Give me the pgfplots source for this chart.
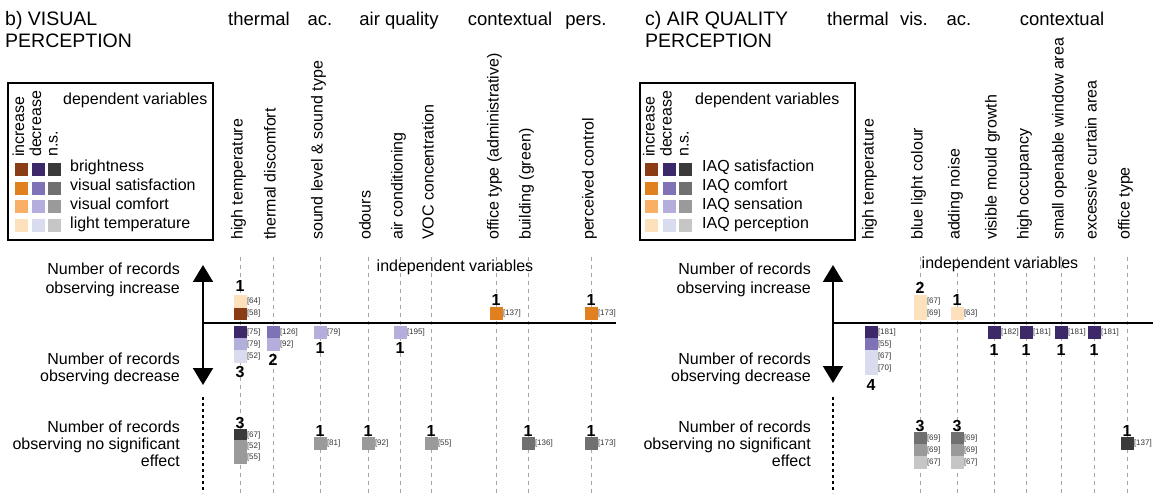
\documentclass[border=0pt]{standalone}
\usepackage{pgfplots}
\pgfplotsset{compat=1.18}
\usepackage{pgfplotstable}
\usepackage{fontspec}
\setmainfont{Liberation Sans}
\usetikzlibrary{arrows.meta}

\definecolor{inA}{HTML}{8A3D14}
\definecolor{inB}{HTML}{E0801E}
\definecolor{inC}{HTML}{F9B066}
\definecolor{inD}{HTML}{FDE0BC}
\definecolor{deA}{HTML}{3D2869}
\definecolor{deB}{HTML}{8072B6}
\definecolor{deC}{HTML}{B3AEDB}
\definecolor{deD}{HTML}{D9DCEF}
\definecolor{nsA}{HTML}{3A3A3A}
\definecolor{nsB}{HTML}{707070}
\definecolor{nsC}{HTML}{9A9A9A}
\definecolor{nsD}{HTML}{C6C6C6}

\pgfplotsset{
  sq/.style={only marks, mark=square*, mark size=6pt, color=#1,
    mark options={draw=#1, fill=#1, line width=0pt}},
  lab/.style={nodes near coords, point meta=explicit symbolic,
    every node near coord/.append style={anchor=west, xshift=7pt, inner sep=0pt,
      font=\fontsize{8}{8}\selectfont, text=black!80}},
  cnt/.style={only marks, mark=none, nodes near coords, point meta=explicit symbolic,
    every node near coord/.append style={anchor=base, inner sep=0pt,
      font=\bfseries\fontsize{16}{16}\selectfont, text=black}},
}

% squares: x y label
\pgfplotstableread{
x y lab
240 313 [58]
}\incA
\pgfplotstableread{
x y lab
496 313 [137]
591 313 [173]
}\incB
\pgfplotstableread{
x y lab
240 301 [64]
920 301 [67]
920 313 [69]
957 313 [63]
}\incD
\pgfplotstableread{
x y lab
240 332 [75]
871 332 [181]
994 332 [182]
1026 332 [181]
1061 332 [181]
1094 332 [181]
}\decA
\pgfplotstableread{
x y lab
273 332 [126]
871 344 [55]
}\decB
\pgfplotstableread{
x y lab
240 344 [79]
273 344 [92]
320 332 [79]
400 332 [195]
}\decC
\pgfplotstableread{
x y lab
240 356 [52]
871 356 [67]
871 368 [70]
}\decD
\pgfplotstableread{
x y lab
240 435 [67]
1127 443 [137]
}\nsA
\pgfplotstableread{
x y lab
528 443 [136]
591 443 [173]
920 438 [69]
957 438 [69]
}\nsB
\pgfplotstableread{
x y lab
240 446 [52]
240 457 [55]
320 443 [81]
368 443 [92]
431 443 [55]
920 450 [69]
957 450 [69]
}\nsC
\pgfplotstableread{
x y lab
920 462 [67]
957 462 [67]
}\nsD
% counts
\pgfplotstableread{
x y lab
240 291 1
240 377 3
273 365 2
320 353 1
400 353 1
496 305 1
591 305 1
240 428 3
320 436 1
368 436 1
431 436 1
528 436 1
591 436 1
920 293 2
957 305 1
871 390 4
994 355 1
1026 355 1
1061 355 1
1094 355 1
920 431 3
957 431 3
1127 436 1
}\counts

\begin{document}
\begin{tikzpicture}
\begin{axis}[
  at={(0,0)}, anchor=south west,
  width=1153pt, height=493pt, scale only axis,
  xmin=0, xmax=1153, ymin=0, ymax=493, y dir=reverse,
  hide axis, clip=false,
]
% guide lines
\pgfplotsinvokeforeach{240,273,320,368,400,431,496,528,591,920,957,994,1026,1061,1094,1127}{
  \draw[black!35, line width=0.8pt, dash pattern=on 4pt off 4pt] (axis cs:#1,257) -- (axis cs:#1,493);
}
% legend squares
\addplot[sq=inA] coordinates {(21.5,169) (651.5,169)};
\addplot[sq=inB] coordinates {(21.5,188) (651.5,188)};
\addplot[sq=inC] coordinates {(21.5,206.5) (651.5,206.5)};
\addplot[sq=inD] coordinates {(21.5,225.5) (651.5,225.5)};
\addplot[sq=deA] coordinates {(38.5,169) (669,169)};
\addplot[sq=deB] coordinates {(38.5,188) (669,188)};
\addplot[sq=deC] coordinates {(38.5,206.5) (669,206.5)};
\addplot[sq=deD] coordinates {(38.5,225.5) (669,225.5)};
\addplot[sq=nsA] coordinates {(54.5,169) (685.5,169)};
\addplot[sq=nsB] coordinates {(54.5,188) (685.5,188)};
\addplot[sq=nsC] coordinates {(54.5,206.5) (685.5,206.5)};
\addplot[sq=nsD] coordinates {(54.5,225.5) (685.5,225.5)};
% data squares
\addplot[sq=inA, lab] table[x=x, y=y, meta=lab] {\incA};
\addplot[sq=inB, lab] table[x=x, y=y, meta=lab] {\incB};
\addplot[sq=inD, lab] table[x=x, y=y, meta=lab] {\incD};
\addplot[sq=deA, lab] table[x=x, y=y, meta=lab] {\decA};
\addplot[sq=deB, lab] table[x=x, y=y, meta=lab] {\decB};
\addplot[sq=deC, lab] table[x=x, y=y, meta=lab] {\decC};
\addplot[sq=deD, lab] table[x=x, y=y, meta=lab] {\decD};
\addplot[sq=nsA, lab] table[x=x, y=y, meta=lab] {\nsA};
\addplot[sq=nsB, lab] table[x=x, y=y, meta=lab] {\nsB};
\addplot[sq=nsC, lab] table[x=x, y=y, meta=lab] {\nsC};
\addplot[sq=nsD, lab] table[x=x, y=y, meta=lab] {\nsD};
% counts
\addplot[cnt] table[x=x, y=y, meta=lab] {\counts};
\end{axis}

\begin{scope}[x=1pt, y=-1pt, shift={(0pt,493pt)}]
% titles
\node[anchor=base west, inner sep=0, font=\fontsize{19.5}{21}\selectfont] at (5,26) {b) VISUAL};
\node[anchor=base west, inner sep=0, font=\fontsize{19.5}{21}\selectfont] at (5,48) {PERCEPTION};
\node[anchor=base west, inner sep=0, font=\fontsize{19.5}{21}\selectfont] at (645,26) {c) AIR QUALITY};
\node[anchor=base west, inner sep=0, font=\fontsize{19.5}{21}\selectfont] at (645,48) {PERCEPTION};
% group headers
\foreach \xx/\tt in {259/thermal,320/ac.,399/air quality,510/contextual,586/pers.,858/thermal,914/vis.,959/ac.,1062/contextual}{
  \node[anchor=base, inner sep=0, font=\fontsize{18.5}{20}\selectfont] at (\xx,25.5) {\tt};
}
% column labels
\foreach \xx/\tt in {240/high temperature,273/thermal discomfort,320/sound level \& sound type,368/odours,400/air conditioning,431/VOC concentration,496/office type (administrative),528/building (green),591/perceived control,871/high temperature,920/blue light colour,957/adding noise,994/visible mould growth,1026/high occupancy,1061/small openable window area,1094/excessive curtain area,1127/office type}{
  \node[rotate=90, anchor=mid west, inner sep=0, font=\fontsize{16}{18}\selectfont] at (\xx,240) {\tt};
}
% legend boxes
\draw[line width=1.5pt] (8,83) rectangle (213,240);
\draw[line width=1.5pt] (640,83) rectangle (855,240);
\foreach \xx/\tt in {21.5/increase,38.5/decrease,55/n.s.,652/increase,669/decrease,686/n.s.}{
  \node[rotate=90, anchor=mid west, inner sep=0, font=\fontsize{16}{18}\selectfont] at (\xx,157) {\tt};
}
\node[anchor=base west, inner sep=0, font=\fontsize{16}{18}\selectfont] at (63,105) {dependent variables};
\node[anchor=base west, inner sep=0, font=\fontsize{16}{18}\selectfont] at (695,105) {dependent variables};
\foreach \yy/\tt in {169/brightness,188/visual satisfaction,206.5/visual comfort,225.5/light temperature}{
  \node[anchor=mid west, inner sep=0, font=\fontsize{16}{18}\selectfont] at (70,\yy) {\tt};
}
\foreach \yy/\tt in {169/IAQ satisfaction,188/IAQ comfort,206.5/IAQ sensation,225.5/IAQ perception}{
  \node[anchor=mid west, inner sep=0, font=\fontsize{16}{18}\selectfont] at (702,\yy) {\tt};
}
% axes arrows
\draw[line width=2pt] (203,323) -- (616,323);
\draw[line width=2pt] (833,323) -- (1153,323);
\draw[line width=2pt, {Triangle[width=20pt,length=17pt]}-{Triangle[width=20pt,length=17pt]}] (203,265) -- (203,385);
\draw[line width=2pt, {Triangle[width=20pt,length=17pt]}-{Triangle[width=20pt,length=17pt]}] (833,265) -- (833,383);
\draw[line width=2pt, dash pattern=on 3pt off 3pt] (203,397) -- (203,493);
\draw[line width=2pt, dash pattern=on 3pt off 3pt] (833,397) -- (833,493);
% side texts
\foreach \xx in {180,811}{
  \node[anchor=base east, inner sep=0, font=\fontsize{16}{18}\selectfont] at (\xx,275) {Number of records};
  \node[anchor=base east, inner sep=0, font=\fontsize{16}{18}\selectfont] at (\xx,293) {observing increase};
  \node[anchor=base east, inner sep=0, font=\fontsize{16}{18}\selectfont] at (\xx,364) {Number of records};
  \node[anchor=base east, inner sep=0, font=\fontsize{16}{18}\selectfont] at (\xx,381) {observing decrease};
  \node[anchor=base east, inner sep=0, font=\fontsize{16}{18}\selectfont] at (\xx,432) {Number of records};
  \node[anchor=base east, inner sep=0, font=\fontsize{16}{18}\selectfont] at (\xx,449) {observing no significant};
  \node[anchor=base east, inner sep=0, font=\fontsize{16}{18}\selectfont] at (\xx,466) {effect};
}
\node[anchor=base, inner sep=0, font=\fontsize{16}{18}\selectfont] at (455,272) {independent variables};
\node[anchor=base, inner sep=0, font=\fontsize{16}{18}\selectfont] at (1000,269) {independent variables};
\end{scope}
\pgfresetboundingbox
\path (0,0) rectangle (1153pt,493pt);
\end{tikzpicture}
\end{document}
